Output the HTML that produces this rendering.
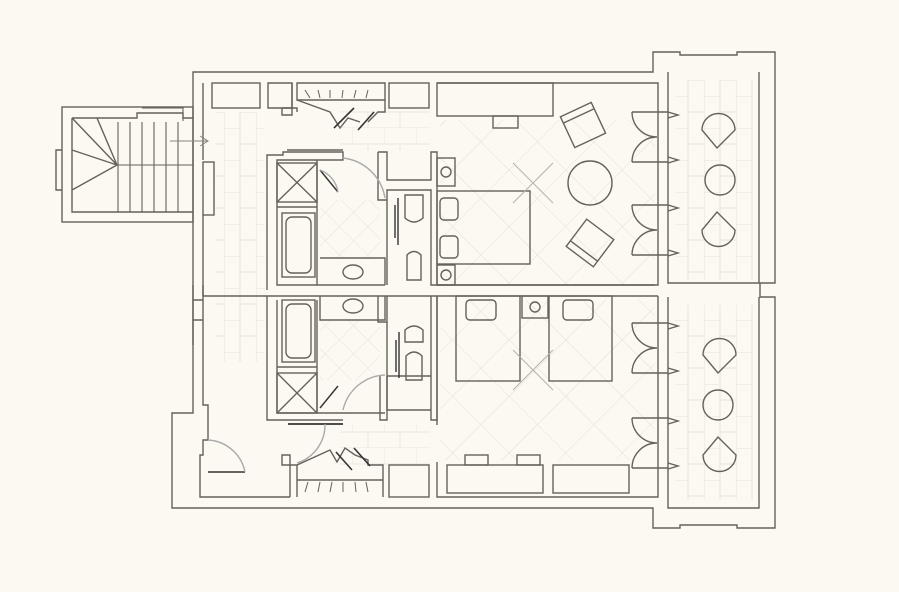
<!DOCTYPE html>
<html><head><meta charset="utf-8"><style>
html,body{margin:0;padding:0;background:#fcf9f2;}
svg{display:block}
</style></head><body>
<svg width="899" height="592" viewBox="0 0 899 592" xmlns="http://www.w3.org/2000/svg">
<defs>
<pattern id="dia" width="40" height="40" patternUnits="userSpaceOnUse" patternTransform="rotate(45)">
<path d="M0 0H40M0 0V40" stroke="#e4e0d8" stroke-width="1" fill="none"/>
</pattern>
<pattern id="dia2" width="20" height="20" patternUnits="userSpaceOnUse" patternTransform="rotate(45)">
<path d="M0 0H20M0 0V20" stroke="#e6e2da" stroke-width="1" fill="none"/>
</pattern>
<pattern id="brick" width="32" height="32" patternUnits="userSpaceOnUse">
<path d="M0 0V16M16 16V32M0 16H32M0 32H32" stroke="#ebe7df" stroke-width="1" fill="none"/>
</pattern>
<pattern id="brickv" width="32" height="32" patternUnits="userSpaceOnUse">
<path d="M0 0H16M16 16H32M0 0V32M16 0V32" stroke="#ebe7df" stroke-width="1.2" fill="none"/>
</pattern>
</defs>
<rect width="899" height="592" fill="#fcf9f2"/>
<!-- floor patterns -->
<rect x="440" y="120" width="215" height="165" fill="url(#dia)"/>
<rect x="440" y="300" width="215" height="160" fill="url(#dia)"/>
<rect x="320" y="200" width="60" height="58" fill="url(#dia2)"/>
<rect x="320" y="320" width="60" height="60" fill="url(#dia2)"/>
<rect x="215" y="112" width="50" height="250" fill="url(#brickv)"/>
<rect x="340" y="110" width="90" height="40" fill="url(#brick)"/>
<rect x="340" y="425" width="90" height="40" fill="url(#brick)"/>
<rect x="675" y="80" width="78" height="200" fill="url(#brickv)"/>
<rect x="675" y="305" width="78" height="195" fill="url(#brickv)"/>

<g fill="none" stroke="#66615b" stroke-width="1.4">
<!-- outer building -->
<path d="M193 72H653V52H680V55H737V52H775V283H760V297H775V528H737V525H680V528H653V508H172V413H193Z"/>
<!-- inner outer wall -->
<path d="M203 83V160M203 215V285M203 345V405H208V440H203V455H200V497H290"/>
<path d="M193 285V345M203 285V345M193 300H203M193 320H203"/>
<rect x="203" y="162" width="11" height="53"/>
<!-- top row cabinets -->
<rect x="212" y="83" width="48" height="25"/>
<path d="M268 83H292V108H268Z"/>
<path d="M292 83V108H297V112M292 108H282V115H292V108"/>
<path d="M297 83H385V100H297Z"/>
<path d="M297 100L330 112L340 128L348 118L360 122M385 100V112H378L368 122"/>
<path d="M305 90L310 98M318 90L320 98M330 90L330 98M343 90L342 98M356 90L354 98M368 90L366 98" stroke-width="1"/>
<path d="M334 128L354 108M358 130L374 112" stroke="#333" stroke-width="1.6"/>
<rect x="389" y="83" width="40" height="25"/>
<rect x="437" y="83" width="116" height="33"/>
<rect x="493" y="116" width="25" height="12"/>
<path d="M437 83H658V285H437"/>
<!-- stairs -->
<rect x="62" y="107" width="131" height="115"/>
<path d="M72 118H137V113H183V118H193M72 118V212H193M72 118L117 165M97 118L117 165M72 150L117 165M72 190L117 165"/>
<path d="M117 165H193M118 122V212M130 122V212M142 122V212M154 122V212M166 122V212M178 122V212M142 108H183V121" stroke-width="1.1"/>
<path d="M62 150H56V190H62"/>
<path d="M170 141H208M200 136L208 141L200 146" stroke="#8a857e" stroke-width="1"/>
<!-- top bathroom -->
<path d="M267 290V155H283V152H343V160H277V285H385"/>
<rect x="277" y="163" width="40" height="39"/><path d="M277 163L317 202M317 163L277 202"/>
<rect x="282" y="213" width="33" height="64"/><rect x="286" y="217" width="25" height="56" rx="6"/>
<path d="M317 160V285M277 207H317M320 258H385V285"/>
<ellipse cx="353" cy="272" rx="10" ry="7"/>
<path d="M320 170L338 192" stroke="#333"/>
<path d="M320 170A28 28 0 0 1 338 192" stroke="#aaa"/>
<path d="M287 150H343M378 152H387V180H431V152H437V285H431V190H387V285M378 152V200H387"/>
<path d="M343 158A48 48 0 0 1 385 198" stroke="#aaa"/>
<path d="M398 198V245M395 205V238" stroke="#333"/>
<path d="M405 195H423V218Q414 226 405 218Z"/>
<path d="M407 255Q414 248 421 255V280H407Z"/>
<rect x="437" y="158" width="18" height="28"/><circle cx="446" cy="172" r="5"/>
<rect x="437" y="265" width="18" height="20"/><circle cx="446" cy="275" r="5"/>
<rect x="437" y="191" width="93" height="73"/>
<rect x="440" y="198" width="18" height="22" rx="4"/><rect x="440" y="236" width="18" height="22" rx="4"/>
<!-- mid wall -->
<path d="M203 296H267M203 296V285M437 285H655M267 296H658"/>
<path d="M267 296V420H343M277 300V413H385"/>
<!-- bottom bathroom -->
<rect x="282" y="300" width="33" height="62"/><rect x="286" y="304" width="25" height="54" rx="6"/>
<rect x="277" y="373" width="40" height="40"/><path d="M277 373L317 413M317 373L277 413"/>
<path d="M317 300V413M277 367H317M320 296V320H385V296"/>
<ellipse cx="353" cy="306" rx="10" ry="7"/>
<path d="M320 408L338 386" stroke="#333"/>
<path d="M378 296V322H387V296M431 296V420H437V296M387 322V410H431M387 376H431"/>
<path d="M405 330Q414 322 423 330V342H405Z"/>
<path d="M406 356Q414 348 422 356V380H406Z"/>
<path d="M399 332V378M396 340V372" stroke="#333"/>
<path d="M387 376V420H380V376" />
<path d="M343 410A45 45 0 0 1 385 375" stroke="#aaa"/>
<path d="M288 424H343" stroke="#333" stroke-width="1.8"/>
<!-- bottom right room -->
<rect x="456" y="296" width="64" height="85"/><rect x="466" y="300" width="30" height="20" rx="4"/>
<rect x="549" y="296" width="63" height="85"/><rect x="563" y="300" width="30" height="20" rx="4"/>
<rect x="522" y="296" width="26" height="22"/><circle cx="535" cy="307" r="5"/>
<path d="M437 296V425M437 462V497H658V296"/>
<rect x="447" y="465" width="96" height="28"/>
<rect x="465" y="455" width="23" height="10"/><rect x="517" y="455" width="23" height="10"/>
<rect x="553" y="465" width="76" height="28"/>
<!-- bottom closets -->
<path d="M290 497V465H282V455H290V465H297L330 450L337 462L345 448L355 455L368 460V465H383V497"/>
<path d="M297 480H383M297 497V465" />
<path d="M305 492L308 482M318 492L320 482M330 492L332 482M343 492L343 482M356 492L355 482M368 492L366 482" stroke-width="1"/>
<path d="M336 452L352 470M354 448L370 466" stroke="#333" stroke-width="1.6"/>
<rect x="389" y="465" width="40" height="32"/>
<path d="M208 472H245" stroke="#333" stroke-width="1.6"/>
<path d="M208 440A40 40 0 0 1 245 472" stroke="#aaa"/>
<path d="M297 463A40 40 0 0 0 325 424" stroke="#aaa"/>
<!-- balcony inner -->
<path d="M668 72V283H759V72M668 297V508H759V297"/>
<!-- doors -->
<g id="d"><path d="M632 112H668M632 162H668M632 112A25 25 0 0 0 657 137A25 25 0 0 0 632 162M668 112L678 115L668 118M668 157L678 160L668 163" /></g>
<use href="#d" y="93"/><use href="#d" y="211"/><use href="#d" y="306"/>
<!-- furniture top room -->
<g transform="translate(583 125) rotate(-25)"><rect x="-17" y="-17" width="34" height="34"/><path d="M-17 -10H17"/></g>
<circle cx="590" cy="183" r="22"/>
<g transform="translate(590 243) rotate(37)"><rect x="-17" y="-17" width="34" height="34"/><path d="M-17 10H17"/></g>
<!-- balcony furniture -->
<circle cx="720" cy="180" r="15"/><circle cx="718" cy="405" r="15"/>
<path d="M735 130L717 148L702 130A16 16 0 0 1 735 130Z"/>
<path d="M735 230L717 212L702 230A16 16 0 0 0 735 230Z"/>
<path d="M736 355L718 373L703 355A16 16 0 0 1 736 355Z"/>
<path d="M736 455L718 437L703 455A16 16 0 0 0 736 455Z"/>
</g>
<!-- light fixtures -->
<g fill="none" stroke="#b5b0a8" stroke-width="1">
<path d="M533 183L513 163M533 183L553 163M533 183L513 203M533 183L553 203"/>
<path d="M533 370L513 350M533 370L553 350M533 370L513 390M533 370L553 390"/>
</g>
</svg>
</body></html>
